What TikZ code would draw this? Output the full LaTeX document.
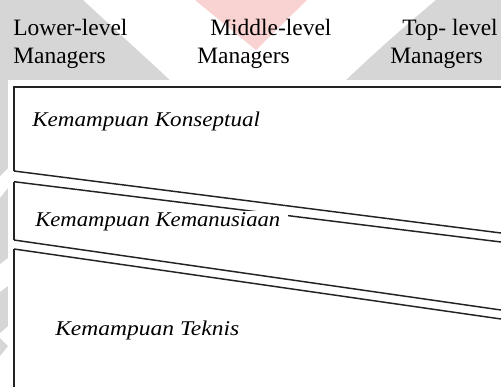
\documentclass[tikz,border=0pt]{standalone}
\usepackage{fontspec}
\setmainfont{Liberation Serif}
\definecolor{markgray}{RGB}{214,214,214}
\definecolor{markpink}{RGB}{249,211,210}
\definecolor{ink}{RGB}{35,35,35}
\begin{document}
\begin{tikzpicture}[x=0.75pt,y=-0.75pt,
  head/.style={anchor=base west, inner sep=0pt, text=black,
    font=\fontsize{17.6}{21}\selectfont},
  skill/.style={anchor=base west, inner sep=0pt, text=black,
    font=\fontsize{15.75}{19}\selectfont\itshape},
  border/.style={draw=ink, line width=1.5pt},
  divider/.style={draw=ink, line width=1.1pt}]
\useasboundingbox (0,0) rectangle (501,387);
\fill[white] (0,0) rectangle (501,387);

% faint logo shapes in the background
\fill[markgray] (0,0) -- (83,0) .. controls (112,27) and (143,55) .. (174,84) -- (0,84) -- cycle;
\fill[markgray] (501,0) -- (436,0) .. controls (405,26) and (372,55) .. (342,84) -- (501,84) -- cycle;
\fill[markpink] (195,0) -- (307,0) -- (256,50) -- cycle;
\fill[markgray] (0,80) -- (8,80) -- (8,168) -- (0,176) -- cycle;
\fill[markgray] (0,198) -- (8,188) -- (8,258) -- (0,264) -- cycle;
\fill[markgray] (0,292) -- (8,286) -- (8,326) -- (0,333) -- cycle;
\fill[markgray] (0,338) -- (8,346) -- (0,356) -- cycle;

% white panel of the chart
\fill[white] (8,80) rectangle (501,387);

% column headings
\node[head] (low1) at (13,35) {Lower-level};
\node[head] (low2) at (13,63) {Managers};
\node[head] (mid1) at (210,35) {Middle-level};
\node[head] (mid2) at (197,63) {Managers};
\node[head] (top1) at (402,35) {Top- level};
\node[head] (top2) at (390,63) {Managers};

% corners of the three bands
\coordinate (tr) at (501,87);
\coordinate (tl) at (14,87);
\coordinate (aL) at (14,171);
\coordinate (aR) at (501,233);
\coordinate (bL) at (14,181.7);
\coordinate (bR) at (501,242);
\coordinate (cL) at (14,240);
\coordinate (cR) at (501,310);
\coordinate (dL) at (14,249);
\coordinate (dR) at (501,319);
\coordinate (bot) at (14,387);

% upper band
\draw[border] (tr) -- (tl) -- (aL);
\draw[divider] (aL) -- (aR);
% middle band
\draw[border] (bL) -- (cL);
\draw[divider] (bL) -- (bR);
\draw[divider] (cL) -- (cR);
% lower band
\draw[border] (dL) -- (bot);
\draw[divider] (dL) -- (dR);

% band labels
\node[skill] (konsep) at (32,126.7) {\scalebox{1.1}[1]{Kemampuan Konseptual}};
\fill[white] (31,211.3) rectangle (288,232);
\node[skill] (manusia) at (35,226.7) {\scalebox{1.08}[1]{Kemampuan Kemanusiaan}};
\node[skill] (teknis) at (55,335) {\scalebox{1.12}[1]{Kemampuan Teknis}};
\end{tikzpicture}
\end{document}
